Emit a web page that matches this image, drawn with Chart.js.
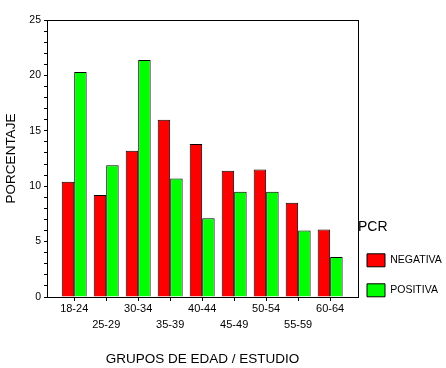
<!DOCTYPE html>
<html>
<head>
<meta charset="utf-8">
<script src="https://cdn.jsdelivr.net/npm/chart.js@4/dist/chart.umd.min.js"></script>
<style>
  html, body { margin: 0; padding: 0; background: #fff; }
  #wrap { width: 446px; height: 368px; }
</style>
</head>
<body>
<div id="wrap"><canvas id="myChart"></canvas></div>
<script>
// grupos de edad (eje x)
const groups = ['18-24', '25-29', '30-34', '35-39', '40-44', '45-49', '50-54', '55-59', '60-64'];
// porcentaje por resultado PCR
const negativa = [10.4, 9.2, 13.2, 16.0, 13.8, 11.4, 11.5, 8.5, 6.1];
const positiva = [20.3, 11.9, 21.4, 10.7, 7.1, 9.5, 9.5, 6.0, 3.6];
const yTicks = [0, 5, 10, 15, 20, 25];

const font = 'Liberation Sans, Arial, sans-serif';

// caja alrededor del area del grafico
const frame = {
  id: 'frame',
  afterDraw(chart) {
    const a = chart.chartArea;
    const ctx = chart.ctx;
    ctx.save();
    ctx.strokeStyle = '#000';
    ctx.lineWidth = 1;
    ctx.strokeRect(Math.round(a.left) + 0.5, Math.round(a.top) + 0.5,
      Math.round(a.right - a.left), Math.round(a.bottom - a.top));
    ctx.restore();
  }
};

const data = {
  datasets: [{
    label: 'NEGATIVA',
    data: negativa.map((v, i) => ({ x: i, y: v })),
    backgroundColor: '#ff0000',
    borderColor: '#000',
    borderWidth: 1
  }, {
    label: 'POSITIVA',
    data: positiva.map((v, i) => ({ x: i, y: v })),
    backgroundColor: '#00ff00',
    borderColor: '#000',
    borderWidth: 1
  }]
};

const config = {
  type: 'bar',
  data: data,
  plugins: [frame],
  options: {
    responsive: true,
    maintainAspectRatio: false,
    animation: false,
    categoryPercentage: 0.78,
    barPercentage: 1,
    layout: { padding: { top: 20, right: 3, left: 0, bottom: 0 } },
    plugins: {
      tooltip: { enabled: false },
      legend: {
        position: 'right',
        align: 'start',
        maxWidth: 85,
        title: {
          display: true,
          text: 'PCR',
          position: 'start',
          color: '#000',
          font: { family: font, size: 14 },
          padding: { top: 200, bottom: 8 }
        },
        labels: {
          color: '#000',
          boxWidth: 18,
          boxHeight: 13,
          padding: 9,
          font: { family: font, size: 10.5, lineHeight: 2 },
          // texto como lista para que la fila use el lineHeight
          generateLabels: chart => Chart.defaults.plugins.legend.labels.generateLabels(chart)
            .map(l => Object.assign(l, { text: [l.text] }))
        }
      }
    },
    scales: {
      x: {
        type: 'linear',
        min: -0.85,
        max: 8.87,
        offset: false,
        afterBuildTicks: s => { s.ticks = s.ticks.filter(t => Number.isInteger(t.value)); },
        afterFit: s => { s.height = 71; },
        grid: { drawOnChartArea: false, offset: false, tickLength: 4, color: '#000' },
        border: { color: '#000' },
        ticks: {
          stepSize: 1,
          includeBounds: false,
          autoSkip: false,
          maxRotation: 0,
          padding: 0,
          color: '#000',
          font: { family: font, size: 11, lineHeight: 1.45 },
          callback: v => (v % 2 === 0 ? groups[v] : ['', groups[v]])
        },
        title: {
          display: true,
          text: 'GRUPOS DE EDAD / ESTUDIO',
          color: '#000',
          font: { family: font, size: 13.5 },
          padding: { top: 14, bottom: 1 }
        }
      },
      y: {
        min: 0,
        max: 25,
        afterFit: s => { s.width = 47; },
        grid: { drawOnChartArea: false, tickLength: 3, color: '#000' },
        border: { color: '#000' },
        ticks: {
          stepSize: 1,
          autoSkip: false,
          padding: 3,
          color: '#000',
          font: { family: font, size: 10.5 },
          callback: v => (yTicks.includes(v) ? v : '')
        },
        title: {
          display: true,
          text: 'PORCENTAJE',
          color: '#000',
          font: { family: font, size: 13.5 },
          padding: { top: 3, bottom: 0 }
        }
      }
    }
  }
};

document.addEventListener('DOMContentLoaded', () => {
  new Chart(document.getElementById('myChart'), config);
});
</script>
</body>
</html>
